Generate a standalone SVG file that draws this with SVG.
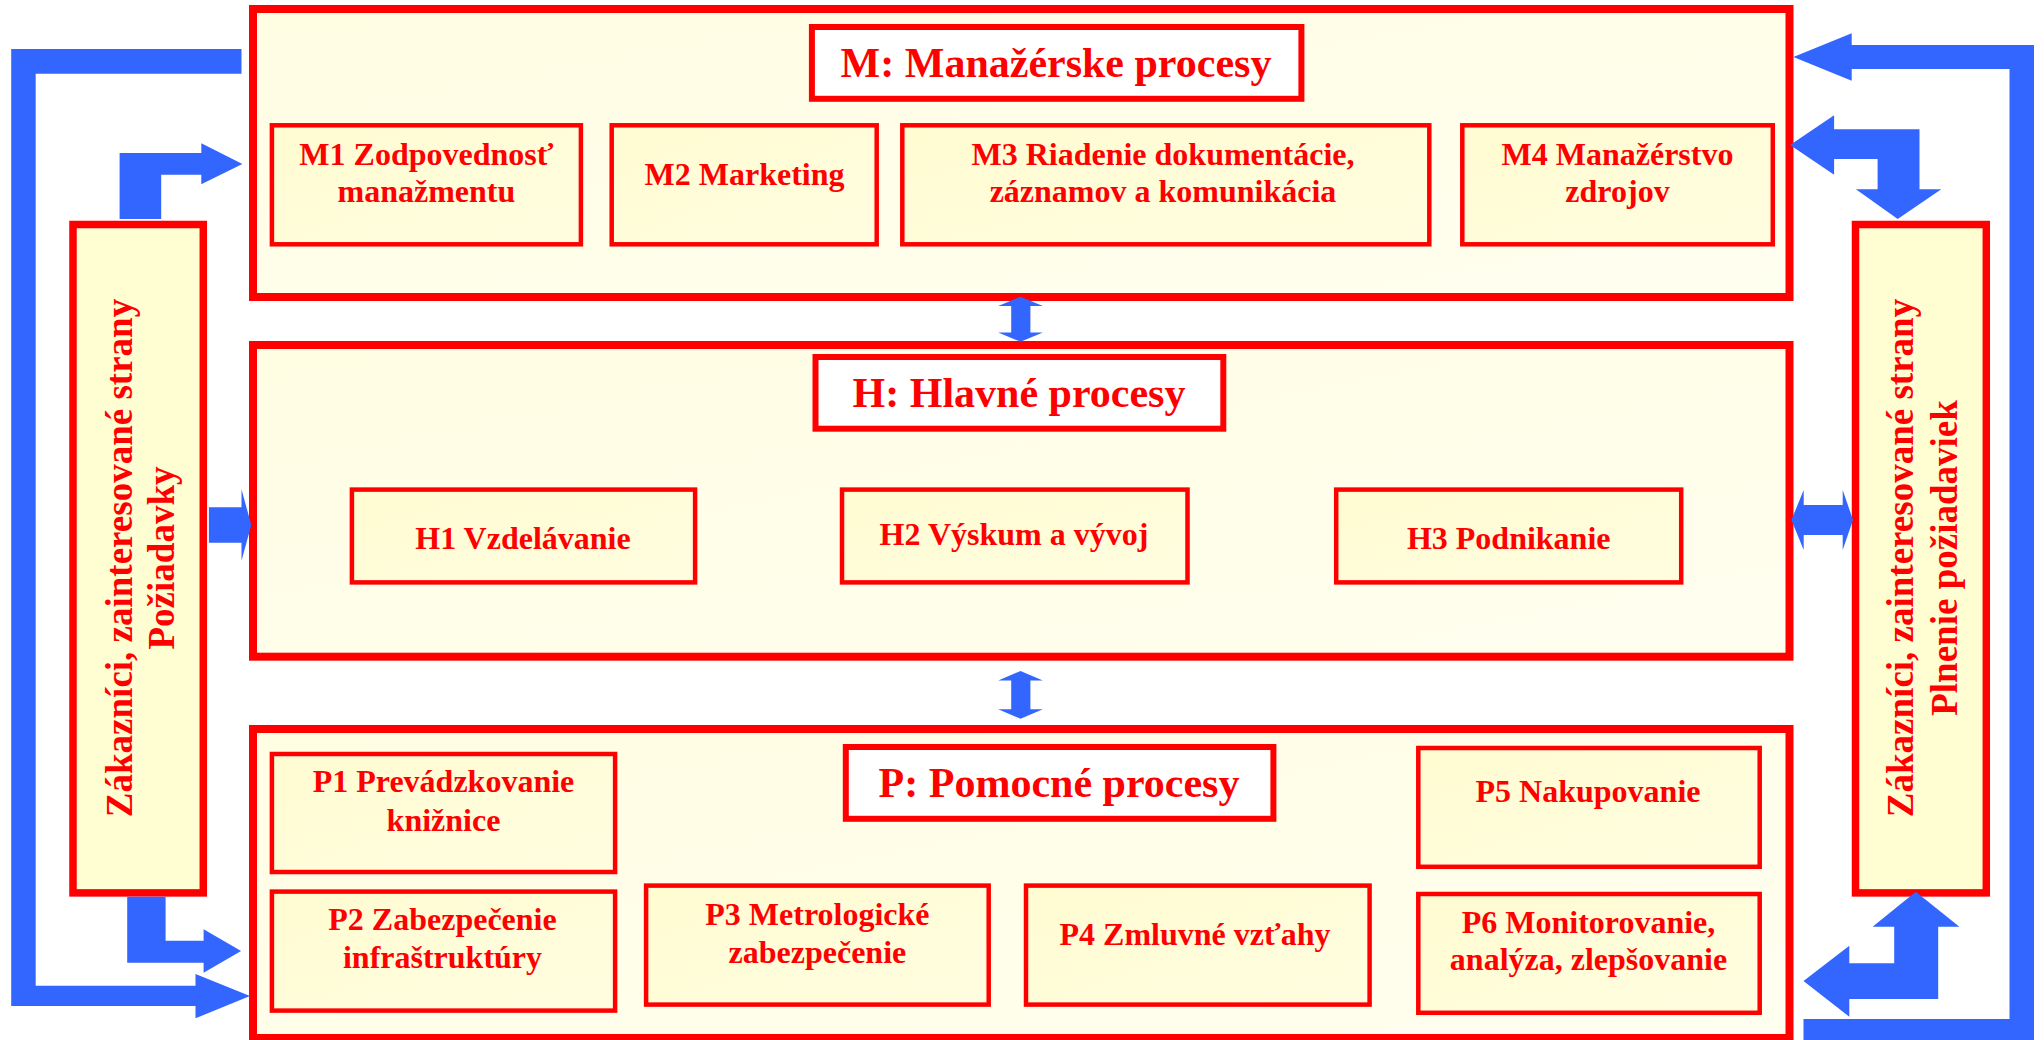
<svg xmlns="http://www.w3.org/2000/svg" width="2044" height="1040" viewBox="0 0 2044 1040">
<defs>
<linearGradient id="gc" x1="0" y1="0" x2="1" y2="1">
<stop offset="0" stop-color="#FFFDE2"/>
<stop offset="1" stop-color="#FFFFF0"/>
</linearGradient>
<linearGradient id="gb" x1="0" y1="0" x2="1" y2="1">
<stop offset="0" stop-color="#FFFCD2"/>
<stop offset="1" stop-color="#FFFDE0"/>
</linearGradient>
</defs>
<style>
.cont{fill:url(#gc);stroke:#FF0000;stroke-width:8}
.ttl{fill:#FFFFFF;stroke:#FF0000;stroke-width:6}
.box{fill:url(#gb);stroke:#FF0000;stroke-width:4.5}
.side{fill:#FFFDD2;stroke:#FF0000;stroke-width:7.5}
.t{font-family:"Liberation Serif","Times New Roman",serif;font-weight:bold;fill:#FF0000;text-anchor:middle}
.s32{font-size:32px}
.s42{font-size:42px}
.s37{font-size:37px}
.arr{fill:#3366FF}
</style>
<rect width="2044" height="1040" fill="#FFFFFF"/>

<g id="M">
<rect class="cont" x="253" y="9" width="1536.5" height="288"/>
<rect class="ttl" x="811.9" y="27" width="489.5" height="71.8"/>
<text class="t s42" x="1056" y="77.3">M:  Manažérske procesy</text>
</g>
<g id="M1"><rect class="box" x="271.9" y="125.3" width="309" height="119"/>
<text class="t s32" x="426.4" y="165">M1 Zodpovednosť</text>
<text class="t s32" x="426.4" y="202.3">manažmentu</text></g>
<g id="M2"><rect class="box" x="611.7" y="125.3" width="265" height="119"/>
<text class="t s32" x="744.5" y="185">M2 Marketing</text></g>
<g id="M3"><rect class="box" x="902.3" y="125.3" width="527" height="119"/>
<text class="t s32" x="1163" y="165">M3 Riadenie dokumentácie,</text>
<text class="t s32" x="1163" y="202.3">záznamov a komunikácia</text></g>
<g id="M4"><rect class="box" x="1462.3" y="125.3" width="310.5" height="119"/>
<text class="t s32" x="1617.5" y="165">M4 Manažérstvo</text>
<text class="t s32" x="1617.5" y="202.3">zdrojov</text></g>

<g id="H">
<rect class="cont" x="253" y="345" width="1536.5" height="311.7"/>
<rect class="ttl" x="815.5" y="357" width="407.8" height="71.7"/>
<text class="t s42" x="1019" y="406.7">H: Hlavné procesy</text>
</g>
<g id="H1"><rect class="box" x="351.9" y="489.6" width="343.2" height="92.8"/>
<text class="t s32" x="523" y="548.7">H1 Vzdelávanie</text></g>
<g id="H2"><rect class="box" x="842" y="489.6" width="345.5" height="92.8"/>
<text class="t s32" x="1014" y="545">H2 Výskum a vývoj</text></g>
<g id="H3"><rect class="box" x="1336.2" y="489.6" width="345" height="92.8"/>
<text class="t s32" x="1508.7" y="548.7">H3 Podnikanie</text></g>

<g id="P">
<rect class="cont" x="253" y="729" width="1536.5" height="309"/>
<rect class="ttl" x="845.8" y="747" width="427.6" height="71.8"/>
<text class="t s42" x="1059" y="796.7">P: Pomocné procesy</text>
</g>
<g id="P1"><rect class="box" x="271.9" y="754" width="343.2" height="118"/>
<text class="t s32" x="443.5" y="792.3">P1 Prevádzkovanie</text>
<text class="t s32" x="443.5" y="830.7">knižnice</text></g>
<g id="P2"><rect class="box" x="271.9" y="891.6" width="343.2" height="119"/>
<text class="t s32" x="442.5" y="930">P2 Zabezpečenie</text>
<text class="t s32" x="442.5" y="968.3">infraštruktúry</text></g>
<g id="P3"><rect class="box" x="646.1" y="885.6" width="342.6" height="119"/>
<text class="t s32" x="817.4" y="925">P3 Metrologické</text>
<text class="t s32" x="817.4" y="962.7">zabezpečenie</text></g>
<g id="P4"><rect class="box" x="1026" y="885.6" width="343.6" height="119"/>
<text class="t s32" x="1195" y="945">P4 Zmluvné vzťahy</text></g>
<g id="P5"><rect class="box" x="1418.3" y="748" width="341.4" height="118.8"/>
<text class="t s32" x="1588" y="802.3">P5 Nakupovanie</text></g>
<g id="P6"><rect class="box" x="1418.3" y="894" width="341.4" height="118.8"/>
<text class="t s32" x="1588.5" y="932.7">P6 Monitorovanie,</text>
<text class="t s32" x="1588.5" y="970">analýza, zlepšovanie</text></g>

<g id="ZL"><rect class="side" x="73" y="224.5" width="130.3" height="668.4"/>
<text class="t s37" transform="translate(131.7,558) rotate(-90)">Zákazníci,  zainteresované strany</text>
<text class="t s37" transform="translate(174.1,558) rotate(-90)">Požiadavky</text></g>
<g id="ZR"><rect class="side" x="1855.5" y="224.5" width="130.8" height="668.4"/>
<text class="t s37" transform="translate(1913.3,558) rotate(-90)">Zákazníci,  zainteresované strany</text>
<text class="t s37" transform="translate(1956.5,558) rotate(-90)">Plnenie požiadaviek</text></g>

<g id="connectors">
<polygon class="arr" points="241.5,49 11.2,49 11.2,1006 195.5,1006 195.5,1018.3 250,996 195.5,974 195.5,985.7 35.7,985.7 35.7,73.7 241.5,73.7"/>
<polygon class="arr" points="119.6,219 119.6,153 201.3,153 201.3,143.3 242.4,164 201.3,184.3 201.3,174.7 161.2,174.7 161.2,219"/>
<polygon class="arr" points="127.2,896.7 165.6,896.7 165.6,940.7 203.6,940.7 203.6,929.3 241.1,951 203.6,972.7 203.6,962.7 127.2,962.7"/>
<polygon class="arr" points="208.9,507.3 241.5,507.3 241.5,489.3 251.3,525 241.5,560.7 241.5,542.7 208.9,542.7"/>
<polygon class="arr" points="1020.5,296.7 1042.9,306 1030.4,306 1030.4,332.4 1042.9,332.4 1020.5,341.7 998.2,332.4 1011.2,332.4 1011.2,306 998.2,306"/>
<polygon class="arr" points="1020.5,671 1042.9,680.5 1030.4,680.5 1030.4,709.2 1042.9,709.2 1020.5,718.7 998.2,709.2 1011.2,709.2 1011.2,680.5 998.2,680.5"/>
<polygon class="arr" points="1791.4,520 1803.7,490 1803.7,505 1842.7,505 1842.7,490 1853,520 1842.7,550 1842.7,535 1803.7,535 1803.7,550"/>
<polygon class="arr" points="1793.4,57 1851.7,33.3 1851.7,45 2034,45 2034,1043 1803.5,1043 1803.5,1019 2009.5,1019 2009.5,69 1851.7,69 1851.7,80.7"/>
<polygon class="arr" points="1790.1,145 1834.1,115.3 1834.1,129.3 1919.5,129.3 1919.5,189.3 1941.3,189.3 1897.7,219 1855.9,189.3 1877.6,189.3 1877.6,159 1834.1,159 1834.1,174.7"/>
<polygon class="arr" points="1915.8,891.7 1959.4,926.7 1938.2,926.7 1938.2,999 1849.3,999 1849.3,1016.7 1803.5,981 1849.3,945.7 1849.3,963.3 1894.2,963.3 1894.2,926.7 1872.6,926.7"/>
</g>
</svg>
